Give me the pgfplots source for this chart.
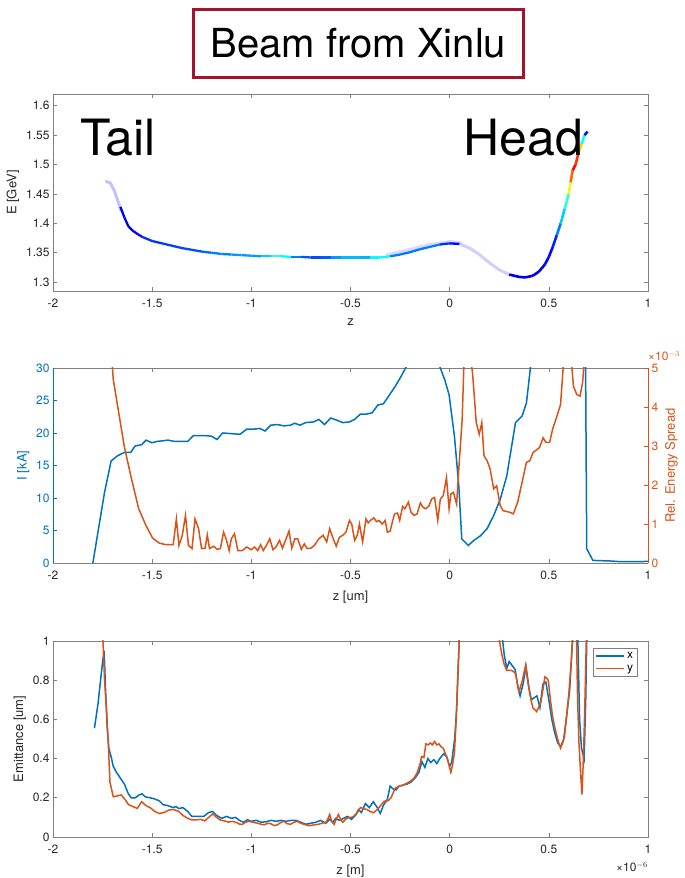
\documentclass[border=0pt]{standalone}
\usepackage{fontspec}
\setmainfont{TeX Gyre Heros}
\usepackage{pgfplots}
\pgfplotsset{compat=1.18}
\usetikzlibrary{shadows}
\definecolor{mblue}{rgb}{0,0.447,0.741}
\definecolor{morange}{rgb}{0.85,0.325,0.098}
\definecolor{axgray}{rgb}{0.5,0.5,0.5}
\definecolor{txtgray}{rgb}{0.15,0.15,0.15}
\definecolor{boxred}{rgb}{0.63,0.08,0.17}
\definecolor{faint}{rgb}{0.76,0.76,1}
\pgfplotsset{
  mstyle/.style={
    scale only axis, width=595pt, clip mode=individual,
    xmin=-2, xmax=1, xtick={-2,-1.5,...,1},
    /pgf/number format/assume math mode=true,
    tick align=inside, major tick length=4pt,
    axis line style={axgray, line width=0.6pt},
    every tick/.style={axgray, line width=0.6pt},
    tick label style={font=\fontsize{12}{14}\selectfont, text=txtgray},
    label style={font=\fontsize{13}{15}\selectfont, text=txtgray},
    xticklabel style={yshift=-4pt},
    xlabel style={yshift=-5pt},
  }
}
\begin{document}
\begin{tikzpicture}
\useasboundingbox (0pt,0pt) rectangle (685pt,878pt);
\node[draw=boxred, line width=3pt, fill=white, minimum width=330pt, minimum height=68pt,
  drop shadow={opacity=0.35, shadow xshift=1.5pt, shadow yshift=-2pt},
  font=\fontsize{40}{44}\selectfont] at (358.5pt,834.5pt) {Beam from Xinlu};

% ---------------- top panel
\begin{axis}[mstyle, at={(53pt,587pt)}, anchor=south west, height=197pt,
  ymin=1.285, ymax=1.62, ytick={1.3,1.35,...,1.61},
  yticklabels={1.3,1.35,1.4,1.45,1.5,1.55,1.6},
  xticklabels={-2,-1.5,-1,-0.5,0,0.5,1},
  xlabel={z}, ylabel={E [GeV]},
  colormap/jet, point meta min=0, point meta max=1]
\addplot[faint, line width=3pt] coordinates {(-1.735,1.472)(-1.71,1.468)(-1.69,1.455)(-1.67,1.435)(-1.655,1.42)};
\addplot[faint, line width=3pt, opacity=0.6] coordinates {(-0.32,1.346)(-0.2,1.356)(-0.1,1.364)(0,1.369)(0.06,1.367)};
\addplot[mesh, point meta=explicit, line width=2.3pt] coordinates {
(-1.66,1.428)[0.12] (-1.64,1.41)[0.1] (-1.62,1.395)[0.08] (-1.60,1.388)[0.1] (-1.57,1.381)[0.12]
(-1.55,1.377)[0.15] (-1.5,1.37)[0.2] (-1.45,1.366)[0.15] (-1.4,1.362)[0.22] (-1.35,1.358)[0.15]
(-1.3,1.355)[0.25] (-1.25,1.352)[0.15] (-1.2,1.35)[0.3] (-1.15,1.348)[0.2] (-1.1,1.347)[0.3]
(-1.05,1.346)[0.25] (-1.0,1.345)[0.3] (-0.95,1.344)[0.25] (-0.9,1.344)[0.4] (-0.85,1.344)[0.45]
(-0.8,1.343)[0.3] (-0.75,1.343)[0.2] (-0.7,1.342)[0.22] (-0.65,1.342)[0.18] (-0.6,1.342)[0.25]
(-0.55,1.342)[0.3] (-0.5,1.342)[0.32] (-0.45,1.342)[0.3] (-0.4,1.342)[0.3] (-0.35,1.342)[0.45]
(-0.3,1.344)[0.3] (-0.25,1.347)[0.2] (-0.2,1.351)[0.28] (-0.15,1.356)[0.2] (-0.1,1.36)[0.3]
(-0.05,1.364)[0.2] (0,1.366)[0.15] (0.05,1.365)[0.1]};
\addplot[faint, line width=3pt, opacity=0.8] coordinates {(0.05,1.365)(0.1,1.358)(0.15,1.347)(0.2,1.333)(0.25,1.321)(0.3,1.313)};
\addplot[mesh, point meta=explicit, line width=2.6pt] coordinates {
(0.3,1.313)[0.1] (0.35,1.309)[0.1] (0.38,1.308)[0.12] (0.42,1.311)[0.1] (0.45,1.318)[0.1]
(0.48,1.33)[0.12] (0.5,1.343)[0.15] (0.52,1.36)[0.12] (0.54,1.38)[0.2] (0.56,1.40)[0.3]
(0.58,1.425)[0.35] (0.60,1.45)[0.5] (0.61,1.47)[0.7] (0.62,1.49)[0.85] (0.635,1.50)[0.9]
(0.65,1.52)[0.75] (0.665,1.535)[0.6] (0.68,1.55)[0.2] (0.695,1.556)[0.1]};
\node[font=\fontsize{50}{54}\selectfont, anchor=base west] at (axis cs:-1.88,1.516) {Tail};
\node[font=\fontsize{50}{54}\selectfont, anchor=base east] at (axis cs:0.69,1.516) {Head};
\end{axis}

% ---------------- middle panel, left axis
\begin{axis}[mstyle, at={(53pt,315pt)}, anchor=south west, height=195pt,
  axis y line*=left,
  ymin=0, ymax=30, ytick={0,5,...,30},
  xticklabels={-2,-1.5,-1,-0.5,0,0.5,1},
  xlabel={z [um]}, ylabel={I [kA]},
  y axis line style={mblue}, ytick style={mblue},
  yticklabel style={text=mblue}, ylabel style={text=mblue}]
\addplot[mblue, line width=1.5pt] coordinates {
(-1.799,0)(-1.740,10.9)(-1.707,15.7)(-1.674,16.5)(-1.641,17.0)(-1.608,17.0)(-1.586,18.0)(-1.553,18.2)
(-1.531,18.9)(-1.502,18.5)(-1.475,18.7)(-1.420,18.9)(-1.387,18.7)(-1.321,18.7)(-1.292,19.6)(-1.233,19.6)
(-1.200,19.5)(-1.173,19.0)(-1.145,20.0)(-1.101,19.9)(-1.057,19.8)(-1.023,20.6)(-0.986,20.6)(-0.957,20.7)
(-0.931,20.3)(-0.902,21.2)(-0.869,21.3)(-0.836,21.1)(-0.803,21.2)(-0.781,21.5)(-0.755,21.2)(-0.726,21.6)
(-0.686,21.7)(-0.660,22.1)(-0.631,21.3)(-0.600,22.3)(-0.572,22.0)(-0.539,21.6)(-0.505,21.7)(-0.479,22.1)
(-0.450,22.9)(-0.422,22.9)(-0.391,23.1)(-0.362,24.3)(-0.334,24.5)(-0.307,25.7)(-0.274,27.2)(-0.245,28.7)
(-0.219,30.2)(-0.15,34)(-0.09,33)(-0.047,30)(-0.025,28.2)(-0.003,25.9)(0.024,19.5)(0.046,11.9)
(0.061,3.7)(0.094,2.7)(0.123,3.5)(0.156,4.2)(0.189,5.3)(0.222,7.3)(0.255,9.8)(0.288,13.4)
(0.332,21.6)(0.365,22.6)(0.387,24.6)(0.409,30.5)(0.5,45)(0.6,50)(0.685,32)(0.691,2.2)
(0.722,0.4)(0.817,0.3)(0.861,0.2)(0.95,0.2)(1.0,0.25)};
\end{axis}

% ---------------- middle panel, right axis
\begin{axis}[mstyle, at={(53pt,315pt)}, anchor=south west, height=195pt,
  axis y line*=right, axis x line=none,
  ymin=0, ymax=5, ytick={0,1,...,5},
  ylabel={Rel. Energy Spread},
  y axis line style={morange}, ytick style={morange},
  yticklabel style={text=morange}, ylabel style={text=morange}]
\addplot[morange, line width=1.5pt] coordinates {
(-1.715,6.0)(-1.696,4.70)(-1.674,4.02)(-1.641,3.0)(-1.608,2.24)(-1.568,1.39)(-1.531,0.96)(-1.498,0.64)
(-1.464,0.51)(-1.431,0.47)(-1.394,0.47)(-1.378,1.13)(-1.365,0.45)(-1.348,0.71)(-1.332,1.22)(-1.317,0.45)
(-1.299,0.37)(-1.284,1.13)(-1.266,0.88)(-1.251,0.37)(-1.233,0.38)(-1.222,0.72)(-1.211,0.37)(-1.189,0.43)
(-1.173,0.35)(-1.156,0.37)(-1.140,0.79)(-1.127,0.62)(-1.112,0.32)(-1.101,0.62)(-1.085,0.75)(-1.068,0.32)
(-1.046,0.32)(-1.023,0.41)(-1.001,0.34)(-0.984,0.41)(-0.968,0.32)(-0.953,0.47)(-0.940,0.32)(-0.924,0.45)
(-0.907,0.62)(-0.891,0.34)(-0.876,0.41)(-0.858,0.58)(-0.843,0.38)(-0.825,0.62)(-0.810,0.82)(-0.796,0.38)
(-0.781,0.62)(-0.766,0.62)(-0.748,0.35)(-0.733,0.49)(-0.719,0.37)(-0.700,0.38)(-0.682,0.45)(-0.660,0.62)
(-0.638,0.71)(-0.620,0.54)(-0.605,0.88)(-0.587,0.62)(-0.572,0.43)(-0.556,0.66)(-0.539,0.71)(-0.523,0.79)
(-0.505,1.09)(-0.494,1.00)(-0.479,0.58)(-0.466,0.71)(-0.455,1.00)(-0.439,0.54)(-0.422,1.13)(-0.411,1.03)
(-0.400,1.09)(-0.382,1.16)(-0.369,1.06)(-0.356,1.09)(-0.340,1.00)(-0.325,1.09)(-0.314,0.79)(-0.300,0.82)
(-0.289,1.05)(-0.278,1.26)(-0.263,1.28)(-0.252,1.09)(-0.237,1.45)(-0.226,1.39)(-0.208,1.56)(-0.195,1.30)
(-0.179,1.22)(-0.164,1.26)(-0.148,1.54)(-0.135,1.43)(-0.120,1.39)(-0.104,1.47)(-0.091,1.64)(-0.076,1.68)
(-0.060,1.09)(-0.047,1.64)(-0.032,1.73)(-0.016,2.19)(-0.003,1.39)(0.006,1.77)(0.019,1.81)(0.035,1.51)
(0.046,2.41)(0.063,3.68)(0.075,5.6)(0.095,5.8)(0.108,5.2)(0.116,4.83)(0.134,3.60)(0.149,3.30)
(0.162,3.60)(0.173,2.75)(0.189,2.62)(0.204,2.41)(0.222,1.90)(0.237,1.98)(0.255,1.47)(0.270,1.34)
(0.288,1.32)(0.303,1.30)(0.321,1.26)(0.343,1.56)(0.365,2.07)(0.387,2.58)(0.404,2.62)(0.420,2.83)
(0.438,2.90)(0.453,2.96)(0.471,3.21)(0.486,3.09)(0.504,3.09)(0.519,3.43)(0.541,3.77)(0.559,4.06)
(0.575,5.2)(0.597,6.0)(0.615,5.1)(0.624,4.53)(0.641,4.32)(0.657,4.28)(0.670,4.62)(0.676,5.0)(0.685,6.0)};
\node[anchor=south west, inner sep=0pt, text=morange, font=\fontsize{12}{14}\selectfont] at ([yshift=7pt]rel axis cs:1,1) {×10$^{-3}$};
\end{axis}

% ---------------- bottom panel
\begin{axis}[mstyle, at={(53pt,41pt)}, anchor=south west, height=196pt,
  ymin=0, ymax=1, ytick={0,0.2,...,1},
  yticklabels={0,0.2,0.4,0.6,0.8,1},
  xticklabels={-2,-1.5,-1,-0.5,0,0.5,1},
  xlabel={z [m]}, ylabel={Emittance [um]},
  legend style={at={(0.982,0.965)}, anchor=north east, draw=axgray, fill=white,
    font=\fontsize{12}{13}\selectfont, inner xsep=2pt, inner ysep=2pt, row sep=1pt},
  legend cell align=left,
  legend image code/.code={\draw[#1] (0pt,0pt) -- (28pt,0pt);}]
\addplot[mblue, line width=1.5pt] coordinates {
(-1.791,0.555)(-1.773,0.68)(-1.758,0.82)(-1.748,0.91)(-1.742,0.95)(-1.735,0.75)(-1.727,0.56)(-1.718,0.45)
(-1.707,0.41)(-1.696,0.36)(-1.680,0.33)(-1.660,0.30)(-1.640,0.27)(-1.620,0.22)(-1.605,0.20)(-1.585,0.20)
(-1.565,0.215)(-1.550,0.22)(-1.535,0.205)(-1.510,0.20)(-1.490,0.195)(-1.465,0.185)(-1.445,0.165)(-1.420,0.16)
(-1.395,0.15)(-1.380,0.155)(-1.365,0.145)(-1.345,0.15)(-1.320,0.13)(-1.300,0.105)(-1.270,0.105)(-1.240,0.105)
(-1.215,0.125)(-1.195,0.13)(-1.175,0.11)(-1.150,0.095)(-1.125,0.105)(-1.100,0.095)(-1.080,0.10)(-1.060,0.085)
(-1.040,0.075)(-1.020,0.088)(-1.000,0.08)(-0.975,0.085)(-0.950,0.075)(-0.925,0.078)(-0.900,0.085)(-0.875,0.08)
(-0.850,0.085)(-0.825,0.08)(-0.800,0.085)(-0.775,0.085)(-0.750,0.075)(-0.725,0.065)(-0.700,0.07)(-0.675,0.075)
(-0.650,0.085)(-0.625,0.07)(-0.605,0.09)(-0.590,0.075)(-0.575,0.095)(-0.555,0.085)(-0.535,0.095)(-0.515,0.105)
(-0.495,0.09)(-0.475,0.11)(-0.460,0.14)(-0.445,0.125)(-0.425,0.17)(-0.405,0.15)(-0.385,0.18)(-0.365,0.15)
(-0.350,0.12)(-0.335,0.16)(-0.315,0.19)(-0.300,0.26)(-0.285,0.245)(-0.270,0.24)(-0.255,0.26)(-0.235,0.265)
(-0.215,0.27)(-0.195,0.28)(-0.175,0.30)(-0.155,0.33)(-0.140,0.385)(-0.125,0.355)(-0.110,0.40)(-0.095,0.38)
(-0.080,0.395)(-0.065,0.375)(-0.050,0.40)(-0.030,0.425)(-0.015,0.41)(0.000,0.36)(0.010,0.38)(0.025,0.50)
(0.035,0.65)(0.050,1.05)(0.10,1.6)(0.2,1.5)(0.262,1.05)(0.275,0.93)(0.288,0.86)(0.300,0.895)
(0.315,0.875)(0.330,0.855)(0.345,0.76)(0.355,0.72)(0.370,0.78)(0.385,0.87)(0.400,0.76)(0.412,0.70)
(0.425,0.71)(0.440,0.72)(0.455,0.66)(0.470,0.78)(0.485,0.79)(0.500,0.70)(0.515,0.60)(0.530,0.53)
(0.545,0.48)(0.560,0.46)(0.575,0.50)(0.590,0.62)(0.605,0.75)(0.622,1.05)(0.64,1.3)(0.655,0.60)
(0.665,0.45)(0.678,0.40)(0.686,0.70)(0.692,1.05)};
\addlegendentry{x}
\addplot[morange, line width=1.5pt] coordinates {
(-1.750,1.05)(-1.740,0.80)(-1.729,0.63)(-1.720,0.45)(-1.713,0.28)(-1.696,0.205)(-1.674,0.21)(-1.656,0.215)
(-1.636,0.19)(-1.619,0.165)(-1.597,0.155)(-1.575,0.146)(-1.553,0.18)(-1.531,0.16)(-1.508,0.148)(-1.486,0.13)
(-1.464,0.12)(-1.440,0.125)(-1.415,0.138)(-1.390,0.14)(-1.365,0.13)(-1.345,0.11)(-1.320,0.095)(-1.299,0.087)
(-1.275,0.088)(-1.255,0.09)(-1.235,0.082)(-1.215,0.10)(-1.195,0.118)(-1.175,0.10)(-1.156,0.086)(-1.135,0.082)
(-1.115,0.076)(-1.095,0.08)(-1.075,0.074)(-1.060,0.066)(-1.046,0.064)(-1.030,0.075)(-1.013,0.08)(-0.990,0.075)
(-0.968,0.07)(-0.950,0.065)(-0.935,0.062)(-0.918,0.07)(-0.902,0.068)(-0.885,0.058)(-0.869,0.062)(-0.850,0.075)
(-0.836,0.08)(-0.820,0.068)(-0.803,0.065)(-0.785,0.075)(-0.770,0.08)(-0.750,0.07)(-0.726,0.062)(-0.710,0.058)
(-0.693,0.06)(-0.675,0.063)(-0.660,0.065)(-0.640,0.072)(-0.627,0.072)(-0.615,0.09)(-0.605,0.115)(-0.595,0.08)
(-0.583,0.064)(-0.572,0.09)(-0.561,0.115)(-0.550,0.09)(-0.539,0.075)(-0.525,0.09)(-0.510,0.10)(-0.495,0.10)
(-0.483,0.107)(-0.465,0.125)(-0.450,0.15)(-0.435,0.145)(-0.417,0.14)(-0.400,0.13)(-0.384,0.124)(-0.365,0.14)
(-0.351,0.157)(-0.340,0.17)(-0.329,0.183)(-0.310,0.185)(-0.296,0.20)(-0.285,0.225)(-0.274,0.25)(-0.262,0.255)
(-0.252,0.26)(-0.240,0.262)(-0.230,0.267)(-0.215,0.275)(-0.197,0.285)(-0.180,0.30)(-0.164,0.327)(-0.150,0.37)
(-0.142,0.41)(-0.130,0.405)(-0.120,0.475)(-0.108,0.47)(-0.098,0.48)(-0.087,0.47)(-0.076,0.487)(-0.065,0.47)
(-0.054,0.475)(-0.043,0.46)(-0.032,0.453)(-0.020,0.42)(-0.010,0.394)(0.006,0.33)(0.015,0.37)(0.024,0.43)
(0.033,0.60)(0.041,0.82)(0.052,1.1)(0.1,1.8)(0.2,1.6)(0.243,1.05)(0.262,0.936)(0.275,0.88)
(0.288,0.85)(0.300,0.85)(0.310,0.85)(0.321,0.845)(0.332,0.834)(0.342,0.78)(0.350,0.741)(0.358,0.77)
(0.365,0.792)(0.375,0.84)(0.383,0.876)(0.390,0.82)(0.398,0.766)(0.410,0.70)(0.420,0.657)(0.430,0.65)
(0.438,0.64)(0.450,0.665)(0.460,0.69)(0.470,0.75)(0.480,0.817)(0.490,0.81)(0.497,0.80)(0.508,0.70)
(0.519,0.614)(0.530,0.56)(0.541,0.513)(0.550,0.48)(0.559,0.453)(0.570,0.48)(0.579,0.513)(0.590,0.62)
(0.601,0.733)(0.612,0.88)(0.622,1.05)(0.635,1.3)(0.645,0.70)(0.652,0.479)(0.660,0.33)(0.667,0.217)
(0.675,0.42)(0.681,0.648)(0.690,1.05)};
\addlegendentry{y}
\node[anchor=north east, inner sep=0pt, text=txtgray, font=\fontsize{12}{14}\selectfont] at ([yshift=-25pt]rel axis cs:1,0) {×10$^{-6}$};
\end{axis}
\end{tikzpicture}
\end{document}
